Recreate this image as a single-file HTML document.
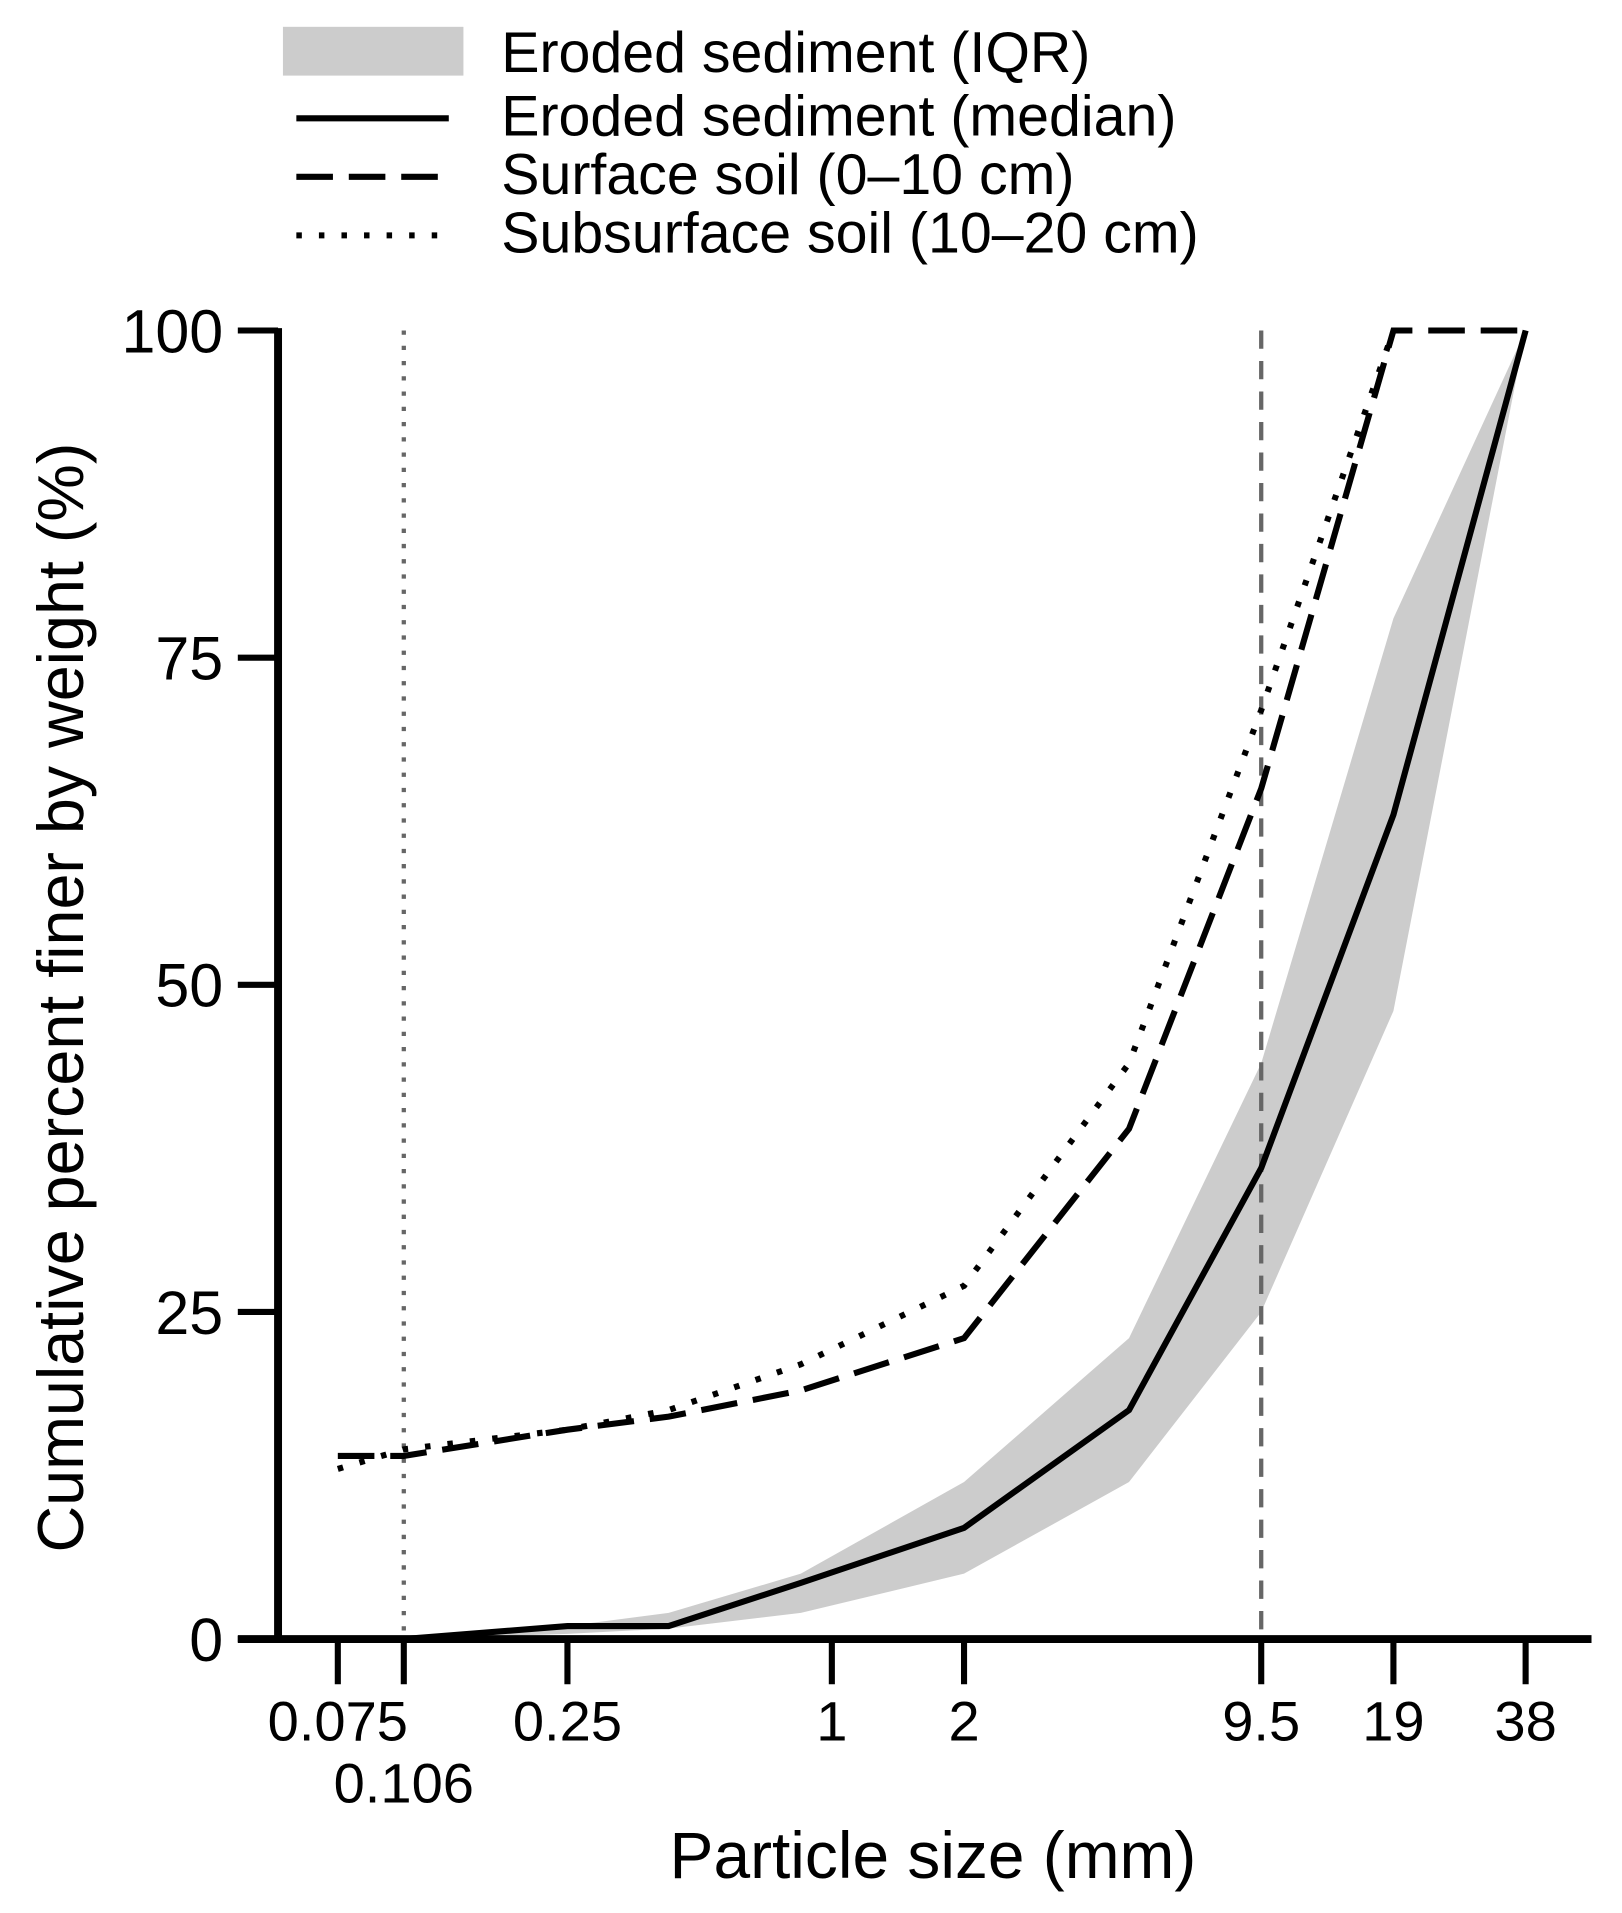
<!DOCTYPE html>
<html><head><meta charset="utf-8"><style>
html,body{margin:0;padding:0;background:#fff;}
svg{display:block;font-family:"Liberation Sans",Arial,sans-serif;}
</style></head><body>
<svg id="chart" width="1622" height="1913" viewBox="0 0 1330 1568.6" xmlns="http://www.w3.org/2000/svg">
<g id="legend">
 <rect x="232" y="22" width="148" height="40" fill="#cccccc"/>
 <line x1="243" y1="97" x2="368" y2="97" stroke="#000" stroke-width="5"/>
 <line x1="243" y1="145" x2="368" y2="145" stroke="#000" stroke-width="5" stroke-dasharray="30,13"/>
 <line x1="243" y1="193" x2="368" y2="193" stroke="#000" stroke-width="5" stroke-dasharray="4.5,14"/>
 <text x="411" y="59" font-size="47">Eroded sediment (IQR)</text>
 <text x="411" y="111" font-size="47">Eroded sediment (median)</text>
 <text x="411" y="159" font-size="47">Surface soil (0–10 cm)</text>
 <text x="411" y="207" font-size="47">Subsurface soil (10–20 cm)</text>
</g>
<g id="plot"></g>
<text x="765" y="1540" font-size="54" text-anchor="middle">Particle size (mm)</text>
<text transform="translate(68,818) rotate(-90)" font-size="53" text-anchor="middle">Cumulative percent finer by weight (%)</text>
</svg>
<script>
const sizes = [0.075, 0.106, 0.25, 0.425, 0.85, 2, 4.75, 9.5, 19, 38];
const medianVals = [null, 0, 1, 1, 4.3, 8.5, 17.5, 36, 63, 100];
const iqrLow = [null, 0, 0.4, 0.8, 2, 5, 12, 25, 48, 100];
const iqrHigh = [null, 0, 1, 2, 5, 12, 23, 44, 78, 100];
const surfaceVals = [14, 14, 16, 17, 19, 23, 39, 65, 100, 100];
const subsurfaceVals = [13, 14.5, 16, 17.5, 21, 27, 44, 71, 100, null];
const xTicks = [0.075, 0.106, 0.25, 1, 2, 9.5, 19, 38];
const xTickLabels = ["0.075", "0.106", "0.25", "1", "2", "9.5", "19", "38"];
const yTicks = [0, 25, 50, 75, 100];

const NS = "http://www.w3.org/2000/svg";
const plot = document.getElementById("plot");
const x = v => 277 + 360.1 * Math.log10(v / 0.075);
const y = v => 1344 - 10.73 * v;
function mk(tag, attrs, parent) {
  const e = document.createElementNS(NS, tag);
  for (const k in attrs) e.setAttribute(k, attrs[k]);
  (parent || plot).appendChild(e);
  return e;
}
function pts(vals) {
  const p = [];
  vals.forEach((v, i) => { if (v !== null) p.push(x(sizes[i]).toFixed(1) + "," + y(v).toFixed(1)); });
  return p.join(" ");
}
const up = [], lo = [];
sizes.forEach((s, i) => { if (iqrHigh[i] !== null) { up.push(x(s) + "," + y(iqrHigh[i])); lo.unshift(x(s) + "," + y(iqrLow[i])); } });
const band = mk("polygon", { points: up.concat(lo).join(" "), fill: "#cccccc" });


const r1 = mk("line", { x1: x(0.106), y1: y(100), x2: x(0.106), y2: y(0), stroke: "#666", "stroke-width": 3.5, "stroke-dasharray": "3.5,9" });


const r2 = mk("line", { x1: x(9.5), y1: y(100), x2: x(9.5), y2: y(0), stroke: "#666", "stroke-width": 3.5, "stroke-dasharray": "15,10" });


const med = mk("polyline", { points: pts(medianVals), fill: "none", stroke: "#000", "stroke-width": 5 });


const sur = mk("polyline", { points: pts(surfaceVals), fill: "none", stroke: "#000", "stroke-width": 5, "stroke-dasharray": "30,13" });


const sub = mk("polyline", { points: pts(subsurfaceVals), fill: "none", stroke: "#000", "stroke-width": 5, "stroke-dasharray": "4.5,14" });


const ya = mk("line", { x1: 228, y1: y(100) - 2, x2: 228, y2: y(0) + 3, stroke: "#000", "stroke-width": 6.5 });


const xa = mk("line", { x1: 195, y1: y(0), x2: 1305, y2: y(0), stroke: "#000", "stroke-width": 6.5 });


yTicks.forEach(t => {
  const tk = mk("line", { x1: 195, y1: y(t), x2: 228, y2: y(t), stroke: "#000", "stroke-width": 5 });
  
  
  const lb = mk("text", { x: 183, y: y(t) + 18, "font-size": 50, "text-anchor": "end" });
  lb.textContent = t;
  
  
});
xTicks.forEach((t, i) => {
  const tk = mk("line", { x1: x(t), y1: y(0), x2: x(t), y2: 1381, stroke: "#000", "stroke-width": 5 });
  
  
  const lb = mk("text", { x: x(t), y: i === 1 ? 1478 : 1427, "font-size": 46, "text-anchor": "middle" });
  lb.textContent = xTickLabels[i];
  
  
});
</script>
</body></html>
